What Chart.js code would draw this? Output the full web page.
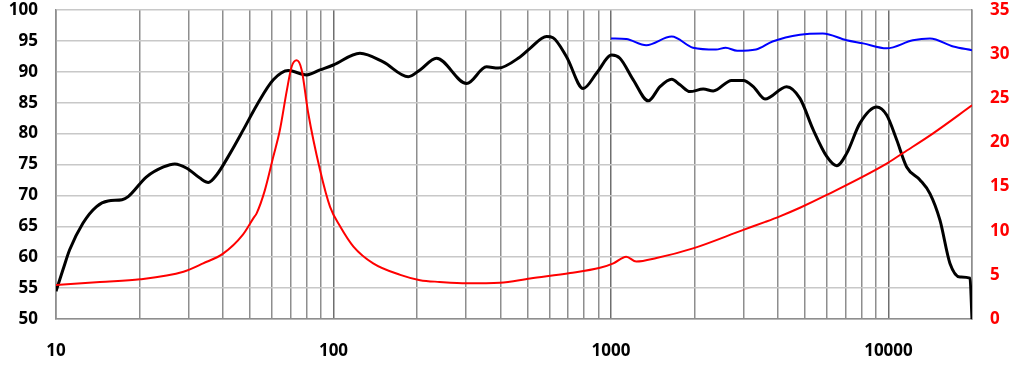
<!DOCTYPE html>
<html>
<head>
<meta charset="utf-8">
<script src="https://cdn.jsdelivr.net/npm/chart.js@4/dist/chart.umd.min.js"></script>
<style>
  html, body { margin: 0; padding: 0; background: #fff; }
  #wrap { width: 1024px; height: 368px; }
</style>
</head>
<body>
<div id="wrap"><canvas id="chartFR"></canvas></div>
<script>
// on-axis response (dB), black
const splFreq = [10, 10.6, 11.2, 12.5, 14.0, 15.4, 17.3, 18.2, 21.2, 24.4, 26.8, 29.6, 33.0, 35.4, 37.9, 42.4, 47.3, 52.9,
  60.7, 68.7, 80.1, 89.4, 99.8, 124.6, 151, 186, 205, 235, 302, 356, 392, 470, 511, 586, 618, 692, 794, 888,
  1006, 1077, 1203, 1363, 1502, 1655, 1773, 1926, 2151, 2336, 2722, 2998, 3257, 3589, 4297, 4798, 5358, 5990,
  6508, 7070, 7895, 9068, 9851, 10703, 11630, 12990, 14110, 15330, 16660, 18100, 19670, 20000];
const splDb = [54.5, 58, 61.2, 65.5, 68.2, 69.1, 69.3, 69.8, 73.0, 74.6, 75.1, 74.4, 72.8, 72.1, 73.3, 76.8, 80.6, 84.6,
  88.7, 90.2, 89.5, 90.3, 91.1, 93.0, 91.6, 89.2, 90.3, 92.2, 88.1, 90.8, 90.6, 92.4, 93.8, 95.7, 95.5, 92.4, 87.3, 89.8,
  92.7, 92.2, 88.7, 85.3, 87.6, 88.8, 87.9, 86.8, 87.2, 86.9, 88.6, 88.6, 87.6, 85.6, 87.6, 85.7, 80.6, 76.3,
  74.8, 76.8, 81.7, 84.3, 83.0, 79.0, 74.6, 72.5, 70.3, 66.0, 59.0, 56.8, 56.6, 50];

// impedance (ohm), red, right axis
const impFreq = [10, 14.4, 20.1, 28.8, 33.9, 40.0, 47.0, 51.4, 52.9, 56.6, 60.7, 64.1, 67.9, 70.7, 73.7, 76.8, 81.1,
  89.4, 97.2, 105.6, 118, 139, 174, 205, 241, 302, 398, 511, 713, 913, 1020, 1135, 1233, 1459, 1975, 3000, 3600,
  4040, 4798, 5990, 9851, 11280, 14440, 20000];
const impOhm = [3.85, 4.2, 4.5, 5.36, 6.3, 7.4, 9.5, 11.4, 12.0, 14.6, 18.4, 21.4, 25.9, 28.6, 29.3, 28.2, 23.3,
  16.9, 12.7, 10.5, 8.2, 6.3, 5.0, 4.4, 4.2, 4.04, 4.1, 4.6, 5.2, 5.8, 6.3, 7.06, 6.5, 6.9, 8.0, 10.1, 11.0,
  11.6, 12.6, 14.05, 17.6, 18.8, 21.0, 24.2];

// second response (dB), blue
const spl2Freq = [1000, 1135, 1340, 1655, 1975, 2390, 2590, 2850, 3330, 3820, 4798, 5800, 7070, 8100, 9851, 12240,
  14110, 17120, 20000];
const spl2Db = [95.4, 95.3, 94.3, 95.7, 93.9, 93.6, 93.9, 93.4, 93.6, 94.9, 96.0, 96.2, 95.1, 94.6, 93.8, 95.1,
  95.4, 94.1, 93.5];

const xGridTicks = [10, 20, 30, 40, 50, 60, 70, 80, 90, 100, 200, 300, 400, 500, 600, 700, 800, 900,
  1000, 2000, 3000, 4000, 5000, 6000, 7000, 8000, 9000, 10000, 20000];
const xTickLabels = [10, 100, 1000, 10000];

function pts(xs, ys) {
  return xs.map((x, i) => ({ x: x, y: ys[i] }));
}

const tickFont = { family: "'Open Sans', sans-serif", size: 17, weight: 'bold' };

// fixed plot box: no extra room for label overhang
function fixY(w) {
  return (scale) => { scale.width = w; scale.paddingTop = 0; scale.paddingBottom = 0; };
}

new Chart(document.getElementById('chartFR'), {
  type: 'line',
  data: {
    datasets: [
      {
        data: pts(impFreq, impOhm),
        yAxisID: 'yImp',
        borderColor: '#ff0000',
        borderWidth: 2,
        pointRadius: 0,
        cubicInterpolationMode: 'monotone',
        order: 0
      },
      {
        data: pts(splFreq, splDb),
        yAxisID: 'y',
        borderColor: '#000000',
        borderWidth: 3,
        pointRadius: 0,
        cubicInterpolationMode: 'monotone',
        order: 1
      },
      {
        data: pts(spl2Freq, spl2Db),
        yAxisID: 'y',
        borderColor: '#0000ff',
        borderWidth: 2,
        pointRadius: 0,
        cubicInterpolationMode: 'monotone',
        order: 2
      }
    ]
  },
  options: {
    responsive: true,
    maintainAspectRatio: false,
    animation: false,
    devicePixelRatio: 1,
    layout: { padding: { top: 10, left: 0, right: 0, bottom: 0 } },
    plugins: { legend: { display: false }, tooltip: { enabled: false } },
    scales: {
      x: {
        type: 'logarithmic',
        min: 10,
        max: 20000,
        afterBuildTicks: (scale) => { scale.ticks = xGridTicks.map(v => ({ value: v })); },
        afterFit: (scale) => { scale.height = 49; scale.paddingLeft = 0; scale.paddingRight = 0; },
        ticks: {
          autoSkip: false,
          maxRotation: 0,
          padding: 22,
          color: '#000',
          font: tickFont,
          callback: (v) => xTickLabels.includes(v) ? String(v) : ''
        },
        grid: {
          drawTicks: false,
          color: (c) => xTickLabels.includes(c.tick && c.tick.value) ? '#6e6e6e' : '#8e8e8e',
          lineWidth: 1.5
        },
        border: { color: '#8e8e8e', width: 1.5 }
      },
      y: {
        position: 'left',
        min: 50,
        max: 100,
        afterFit: fixY(56),
        ticks: { stepSize: 5, padding: 18, color: '#000', font: tickFont },
        grid: { drawTicks: false, color: '#c8c8c8', lineWidth: 1.5 },
        border: { color: '#8e8e8e', width: 1.5 }
      },
      yImp: {
        position: 'right',
        min: 0,
        max: 35,
        afterFit: fixY(52),
        ticks: { stepSize: 5, padding: 18, color: '#ff0000', font: tickFont },
        grid: { display: false, drawTicks: false },
        border: { color: '#8e8e8e', width: 1.5 }
      }
    }
  }
});
</script>
</body>
</html>
